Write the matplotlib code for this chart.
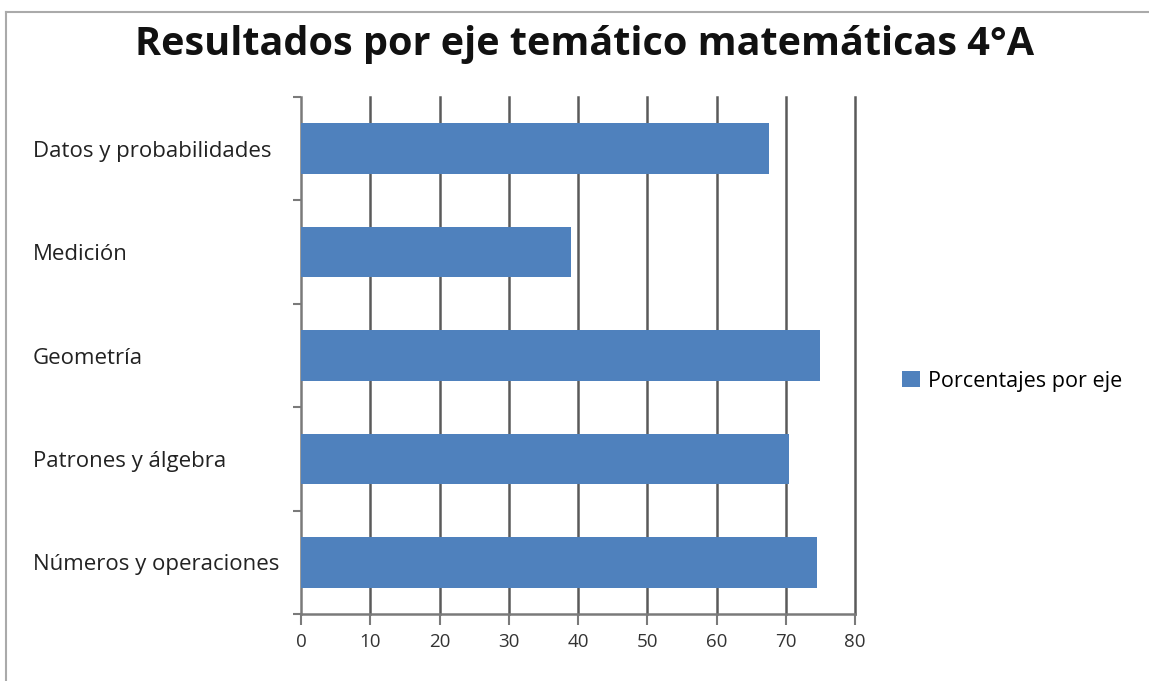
import matplotlib
matplotlib.use("Agg")
import matplotlib.pyplot as plt
from matplotlib.patches import Patch
from matplotlib.lines import Line2D

categories = ["Números y operaciones", "Patrones y álgebra", "Geometría",
              "Medición", "Datos y probabilidades"]
values = [74.5, 70.5, 75.0, 39.0, 67.6]
xticks = [0, 10, 20, 30, 40, 50, 60, 70, 80]
title = "Resultados por eje temático matemáticas 4°A"
series_name = "Porcentajes por eje"

plt.rcParams['font.family'] = ['Open Sans', 'DejaVu Sans']

W, H = 1149, 681
fig = plt.figure(figsize=(W/100, H/100), dpi=100)
ax = fig.add_axes([301/W, 1-614/H, (855-301)/W, (614-97)/H])

bar_color = '#4F81BD'
grid_color = '#5a5a5a'
ypos = list(range(len(categories)))
ax.barh(ypos, values, height=0.49, color=bar_color, zorder=3)

ax.set_xlim(0, 80)
ax.set_ylim(-0.5, len(categories) - 0.5)
ax.set_xticks(xticks)
ax.set_xticklabels([str(t) for t in xticks], fontsize=13.5, color='#333333')
for t in xticks[1:]:
    ax.axvline(t, color=grid_color, lw=1.8, zorder=1, clip_on=False)

ax.set_yticks([i - 0.5 for i in range(len(categories) + 1)])
ax.set_yticklabels([])
ax.set_yticks(ypos, minor=True)
ax.set_yticklabels(categories, minor=True, fontsize=16, color='#222222')
for lab in ax.get_yticklabels(minor=True):
    lab.set_ha('left')
ax.tick_params(axis='y', which='minor', length=0, pad=(301-33)*0.72)
ax.tick_params(axis='y', which='major', length=6, width=1.5, color='#7a7a7a', direction='out')
ax.tick_params(axis='x', length=8, width=1.5, color='#7a7a7a', direction='out', pad=6)

for s in ['top', 'right']:
    ax.spines[s].set_visible(False)
for s in ['left', 'bottom']:
    ax.spines[s].set_color('#7a7a7a')
    ax.spines[s].set_linewidth(1.8)

fig.text(585/W, 1-45/H, title, ha='center', va='center', fontsize=28.5,
         fontweight='bold', color='#111111')

handles = [Patch(facecolor=bar_color, edgecolor='none', label=series_name)]
fig.legend(handles=handles, loc='center left', bbox_to_anchor=(883/W, 1-381/H),
           frameon=False, fontsize=15.5, handlelength=0.8, handleheight=0.8,
           handletextpad=0.4)

# outer border lines (top and left)
fig.add_artist(Line2D([6/W, 1], [1-12/H, 1-12/H], color='#aaaaaa', lw=1.5))
fig.add_artist(Line2D([6/W, 6/W], [0, 1-12/H], color='#aaaaaa', lw=1.5))

fig.savefig('out.png', dpi=100)
